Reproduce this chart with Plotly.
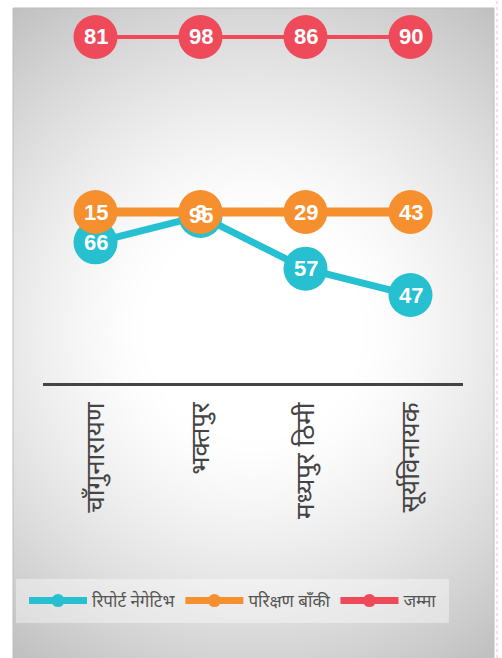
import base64, struct, zlib
import numpy as np
import plotly.graph_objects as go

# ---------------- data ----------------
categories = ["चाँगुनारायण", "भक्तपुर", "मध्यपुर ठिमी", "सूर्यविनायक"]
negative = [66, 95, 57, 47]        # रिपोर्ट नेगेटिभ
pending = [15, 3, 29, 43]          # परिक्षण बाँकी
total = [81, 98, 86, 90]           # जम्मा
series_names = ["रिपोर्ट नेगेटिभ", "परिक्षण बाँकी", "जम्मा"]

# ---------------- styles ----------------
TEAL = "#26c0d0"
ORANGE = "#f68f2e"
RED = "#ef4a5a"
COLORS = [TEAL, ORANGE, RED]
W, H = 502, 658
ML, MR, MT, MB = 43, 39, 8, 274
PW, PH = W - ML - MR, H - MT - MB


def px_to_paper_x(px):
    return (px - ML) / PW


def px_to_paper_y(py):
    return (H - MB - py) / PH


# ---------------- background radial gradient (png) ----------------
bx0, by0, bx1, by1 = 13, 8, 494, 658
bw, bh = bx1 - bx0, by1 - by0
cx, cy = 253 - bx0, 330 - by0
yy, xx = np.mgrid[0:bh, 0:bw]
d = np.sqrt((xx - cx) ** 2 + (yy - cy) ** 2)
t = np.clip((d - 110) / (290), 0, 1) ** 1.3
val = (255 - 62 * t).astype(np.uint8)
rgb = np.stack([val, val, val], axis=-1)
raw = b"".join(b"\x00" + rgb[r].tobytes() for r in range(bh))


def chunk(tag, data):
    c = struct.pack(">I", len(data)) + tag + data
    return c + struct.pack(">I", zlib.crc32(tag + data) & 0xFFFFFFFF)


png = b"\x89PNG\r\n\x1a\n" + chunk(b"IHDR", struct.pack(">IIBBBBB", bw, bh, 8, 2, 0, 0, 0)) \
    + chunk(b"IDAT", zlib.compress(raw, 9)) + chunk(b"IEND", b"")
bg_uri = "data:image/png;base64," + base64.b64encode(png).decode()

# ---------------- figure ----------------
fig = go.Figure()

neg_cats = [str(v) for v in sorted(negative)]
neg_y = [str(v) for v in negative]

fig.add_trace(go.Scatter(
    x=categories, y=neg_y, yaxis="y", name=series_names[0], mode="lines+markers",
    line=dict(color=TEAL, width=7), marker=dict(color=TEAL, size=44),
    cliponaxis=False, hoverinfo="skip", showlegend=False))
fig.add_trace(go.Scatter(
    x=categories, y=[series_names[1]] * len(pending), yaxis="y2", name=series_names[1],
    mode="lines+markers", line=dict(color=ORANGE, width=9),
    marker=dict(color=ORANGE, size=44), cliponaxis=False, hoverinfo="skip",
    showlegend=False))
fig.add_trace(go.Scatter(
    x=categories, y=[series_names[2]] * len(total), yaxis="y3", name=series_names[2],
    mode="lines+markers", line=dict(color=RED, width=4),
    marker=dict(color=RED, size=44), cliponaxis=False, hoverinfo="skip",
    showlegend=False))

# legend entries (uniform legend symbol style)
for name, col in zip(series_names, COLORS):
    fig.add_trace(go.Scatter(
        x=[None], y=[None], name=name, mode="lines+markers",
        line=dict(color=col, width=7), marker=dict(color=col, size=13),
        hoverinfo="skip", showlegend=True))

annotations = []
label_font = dict(family="Liberation Sans, Arial, sans-serif", size=22, color="white")
for c, v in zip(categories, negative):
    annotations.append(dict(x=c, y=neg_cats.index(str(v)), xref="x", yref="y",
                            text=f"<b>{v}</b>", showarrow=False, font=label_font))
for c, v in zip(categories, pending):
    annotations.append(dict(x=c, y=0, xref="x", yref="y2", text=f"<b>{v}</b>",
                            showarrow=False, font=label_font))
for c, v in zip(categories, total):
    annotations.append(dict(x=c, y=0, xref="x", yref="y3", text=f"<b>{v}</b>",
                            showarrow=False, font=label_font))

hidden = dict(visible=False, showgrid=False, zeroline=False, fixedrange=True)

fig.update_layout(
    width=W, height=H,
    margin=dict(l=ML, r=MR, t=MT, b=MB, pad=0),
    paper_bgcolor="white",
    plot_bgcolor="rgba(0,0,0,0)",
    showlegend=True,
    xaxis=dict(type="category", categoryorder="array", categoryarray=categories,
               range=[-0.5, len(categories) - 0.5], anchor="free", position=0,
               showline=True, linecolor="#444444", linewidth=3, showgrid=False,
               zeroline=False, ticks="", tickangle=-90, ticklabelstandoff=6,
               tickfont=dict(family="Noto Sans, sans-serif", size=26, color="#444444")),
    yaxis=dict(type="category", categoryorder="array", categoryarray=neg_cats,
               range=[-0.5, len(neg_cats) - 0.5],
               domain=[px_to_paper_y(308.2), px_to_paper_y(202.8)], **hidden),
    yaxis2=dict(type="category", range=[-0.5, 0.5],
                domain=[px_to_paper_y(222), px_to_paper_y(202)], anchor="x", **hidden),
    yaxis3=dict(type="category", range=[-0.5, 0.5],
                domain=[px_to_paper_y(47), px_to_paper_y(27)], anchor="x", **hidden),
    legend=dict(orientation="h", x=px_to_paper_x(24), y=px_to_paper_y(601),
                xanchor="left", yanchor="middle", bgcolor="rgba(0,0,0,0)",
                itemwidth=58,
                itemclick=False, itemdoubleclick=False,
                font=dict(family="Noto Sans, sans-serif", size=17, color="#555555"),
                tracegroupgap=0),
    annotations=annotations,
    images=[dict(source=bg_uri, xref="paper", yref="paper",
                 x=px_to_paper_x(bx0), y=px_to_paper_y(by0),
                 sizex=bw / PW, sizey=bh / PH, sizing="stretch",
                 xanchor="left", yanchor="top", layer="below")],
    shapes=[dict(type="rect", xref="paper", yref="paper",
                 x0=px_to_paper_x(bx0), x1=px_to_paper_x(bx1),
                 y0=px_to_paper_y(by1 + 2), y1=px_to_paper_y(by0),
                 line=dict(color="#bdbdbd", width=1), layer="below"),
            dict(type="rect", xref="paper", yref="paper",
                 x0=px_to_paper_x(16), x1=px_to_paper_x(449),
                 y0=px_to_paper_y(623), y1=px_to_paper_y(579),
                 fillcolor="rgba(255,255,255,0.4)", line=dict(width=0), layer="below"),
            dict(type="line", xref="paper", yref="paper",
                 x0=px_to_paper_x(497), x1=px_to_paper_x(497),
                 y0=px_to_paper_y(H), y1=px_to_paper_y(0),
                 line=dict(color="#f6b8c4", width=1, dash="dot"))],
)

fig.write_html("out.html", config={"displayModeBar": False, "staticPlot": True},
               post_script="document.body.style.margin='0';document.body.style.overflow='hidden';")
